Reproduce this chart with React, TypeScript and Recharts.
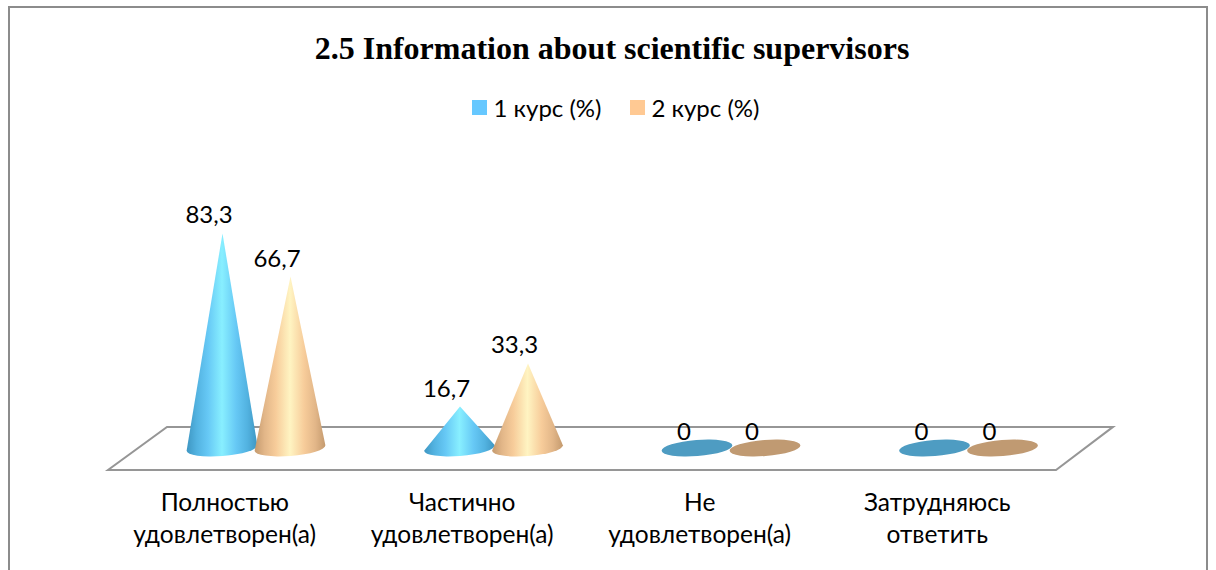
import { BarChart, Bar, XAxis, YAxis, Legend, LabelList, ReferenceArea } from "recharts";

const categories = ["Полностью удовлетворен(а)", "Частично удовлетворен(а)", "Не удовлетворен(а)", "Затрудняюсь ответить"];
const course1 = [83.3, 16.7, 0, 0];
const course2 = [66.7, 33.3, 0, 0];

const chartData = categories.map((name, i) => ({ name, course1: course1[i], course2: course2[i] }));

const FONT = "Lato, 'Noto Sans', sans-serif";
const TILT = 4.5;

const shades: Record<string, { flat: string; grad: string }> = {
  course1: { flat: "#4E9CC2", grad: "url(#coneBlue)" },
  course2: { flat: "#C09A72", grad: "url(#coneTan)" },
};

function Cone(props: any) {
  const { x, y, width, height, dataKey } = props;
  const cx = x + width / 2;
  const base = y + height - 2;
  const rx = 35.5;
  const ry = 8;
  const shade = shades[dataKey];
  if (height < 1) {
    return (
      <ellipse cx={cx} cy={base} rx={rx} ry={ry} fill={shade.flat} transform={`rotate(${-TILT} ${cx} ${base})`} />
    );
  }
  const rad = (TILT * Math.PI) / 180;
  const dx = rx * Math.cos(rad);
  const dy = rx * Math.sin(rad);
  const d = `M${cx + 0.5},${y} L${cx - dx},${base + dy} A${rx},${ry} ${-TILT} 0 0 ${cx + dx},${base - dy} Z`;
  return <path d={d} fill={shade.grad} />;
}

function Floor(props: any) {
  const { x, y, width, height } = props;
  const d = `M${x + 30},${y} L${x + width + 26},${y} L${x + width - 31},${y + height} L${x - 29},${y + height} Z`;
  return <path d={d} fill="none" stroke="#969696" strokeWidth={2} />;
}

function CategoryTick(props: any) {
  const { x, y, payload } = props;
  const lines = String(payload.value).split(" ");
  return (
    <text x={x - 31} y={y} textAnchor="middle" fontFamily={FONT} fontSize={24.5} fill="#000">
      {lines.map((line, i) => (
        <tspan key={line} x={x - 31} dy={i === 0 ? 34 : 32}>
          {line}
        </tspan>
      ))}
    </text>
  );
}

function LegendRow(props: any) {
  return (
    <div
      style={{
        display: "flex",
        justifyContent: "center",
        gap: 28,
        paddingLeft: 7,
        fontFamily: FONT,
        fontSize: 24,
        color: "#000",
      }}
    >
      {props.payload.map((entry: any) => (
        <div key={entry.value} style={{ display: "flex", alignItems: "center", gap: 7 }}>
          <span style={{ width: 15, height: 15, background: entry.color, display: "inline-block" }} />
          {entry.value}
        </div>
      ))}
    </div>
  );
}

const formatValue = (v: any) => String(v).replace(".", ",");

export default function App() {
  return (
    <div style={{ position: "absolute", left: 0, top: 0, width: 1216, height: 570, overflow: "hidden", background: "#fff" }}>
      <div style={{ position: "absolute", left: 8, top: 6, width: 1196, height: 600, border: "2px solid #8c8c8c" }} />
      <div
        style={{
          position: "absolute",
          left: 0,
          top: 30,
          width: 1224,
          textAlign: "center",
          fontFamily: "'Liberation Serif', serif",
          fontWeight: "bold",
          fontSize: 32,
          color: "#000",
        }}
      >
        2.5 Information about scientific supervisors
      </div>
      <div style={{ position: "absolute", left: 0, top: 0 }}>
        <BarChart
          width={1216}
          height={570}
          data={chartData}
          barSize={68}
          barGap={0}
          margin={{ top: 160, right: 129, bottom: 21, left: 137 }}
        >
          <defs>
            <linearGradient id="coneBlue" x1="0" y1="0" x2="1" y2="0">
              <stop offset="0%" stopColor="#3E96C2" />
              <stop offset="14%" stopColor="#52B2E0" />
              <stop offset="30%" stopColor="#66C8F5" />
              <stop offset="50%" stopColor="#88EFFF" />
              <stop offset="70%" stopColor="#66C8F5" />
              <stop offset="86%" stopColor="#52B2E0" />
              <stop offset="100%" stopColor="#3E96C2" />
            </linearGradient>
            <linearGradient id="coneTan" x1="0" y1="0" x2="1" y2="0">
              <stop offset="0%" stopColor="#C49A6E" />
              <stop offset="14%" stopColor="#E2B688" />
              <stop offset="30%" stopColor="#F7CC9A" />
              <stop offset="50%" stopColor="#FFF4C2" />
              <stop offset="70%" stopColor="#F7CC9A" />
              <stop offset="86%" stopColor="#E2B688" />
              <stop offset="100%" stopColor="#C49A6E" />
            </linearGradient>
          </defs>
          <XAxis dataKey="name" height={80} axisLine={false} tickLine={false} interval={0} tick={<CategoryTick />} />
          <YAxis hide domain={[-7.3, 100]} />
          <Legend
            verticalAlign="top"
            height={30}
            wrapperStyle={{ top: 93 }}
            content={<LegendRow />}
          />
          <ReferenceArea
            x1={categories[0]}
            x2={categories[3]}
            y1={-7.7}
            y2={8.9}
            ifOverflow="visible"
            shape={<Floor />}
          />
          {(["course1", "course2"] as const).map((key, i) => (
            <Bar
              key={key}
              dataKey={key}
              name={i === 0 ? "1 курс (%)" : "2 курс (%)"}
              fill={i === 0 ? "#66C8FF" : "#FFC993"}
              shape={<Cone dataKey={key} />}
              isAnimationActive={false}
            >
              <LabelList
                dataKey={key}
                position="top"
                offset={10}
                dx={-13}
                formatter={formatValue}
                fontFamily={FONT}
                fontSize={24}
                fill="#000"
              />
            </Bar>
          ))}
        </BarChart>
      </div>
    </div>
  );
}
